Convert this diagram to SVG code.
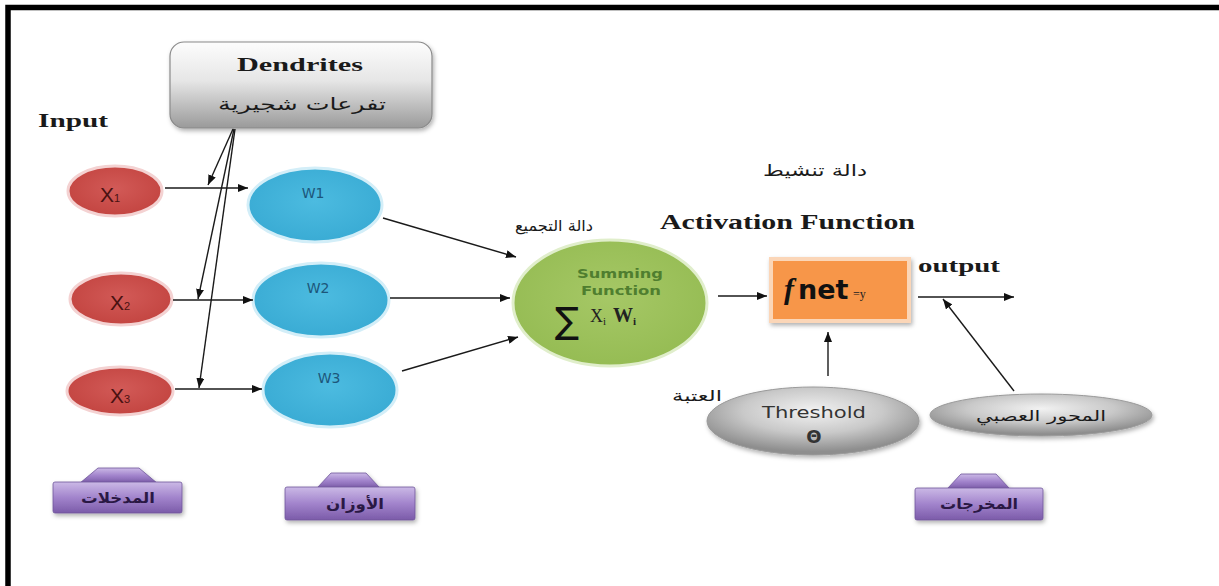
<svg xmlns="http://www.w3.org/2000/svg" width="1219" height="586" viewBox="0 0 1219 586">
<defs>
<linearGradient id="gDend" x1="0" y1="0" x2="0" y2="1"><stop offset="0" stop-color="#fdfdfd"/><stop offset="0.45" stop-color="#e6e6e6"/><stop offset="1" stop-color="#9a9a9a"/></linearGradient>
<radialGradient id="gGray" cx="0.5" cy="0.35" r="0.6"><stop offset="0" stop-color="#f2f2f2"/><stop offset="0.55" stop-color="#c9c9c9"/><stop offset="1" stop-color="#8e8e8e"/></radialGradient>
<linearGradient id="gPurple" x1="0" y1="0" x2="0" y2="1"><stop offset="0" stop-color="#cbb9e6"/><stop offset="0.5" stop-color="#a284cc"/><stop offset="1" stop-color="#7b5ba9"/></linearGradient>
<radialGradient id="gRed" cx="0.5" cy="0.45" r="0.6"><stop offset="0" stop-color="#d25a57"/><stop offset="1" stop-color="#c2433f"/></radialGradient>
<radialGradient id="gBlue" cx="0.5" cy="0.45" r="0.6"><stop offset="0" stop-color="#4cbbe0"/><stop offset="1" stop-color="#38aad3"/></radialGradient>
<radialGradient id="gGreen" cx="0.5" cy="0.45" r="0.6"><stop offset="0" stop-color="#a6c866"/><stop offset="1" stop-color="#94bb52"/></radialGradient>
<filter id="sh" x="-20%" y="-20%" width="140%" height="150%"><feDropShadow dx="1.5" dy="2.5" stdDeviation="2" flood-color="#000" flood-opacity="0.3"/></filter>
<marker id="ah" viewBox="0 0 10 8" refX="10" refY="4" markerWidth="10" markerHeight="8" markerUnits="userSpaceOnUse" orient="auto"><path d="M0,0 L10,4 L0,8 Z" fill="#111"/></marker>
<style>
.en{font-family:"Liberation Serif","Times New Roman",serif;font-weight:bold;fill:#1a1a1a}
.ar{font-family:"DejaVu Sans","Noto Sans",sans-serif;fill:#1a1a1a;text-anchor:middle}
.xn{fill:url(#gRed);stroke:#f4d2d2;stroke-width:3}
.wn{fill:url(#gBlue);stroke:#d3eef8;stroke-width:3}
.xt{font-family:"Liberation Sans",Arial,sans-serif;font-size:21px;fill:#4a1212}
.xs{font-size:11px}
.wt{font-family:"DejaVu Sans",Verdana,sans-serif;font-size:14px;fill:#1d567a;text-anchor:middle}
.gt{font-family:"DejaVu Sans",Verdana,sans-serif;font-size:13px;font-weight:bold;fill:#4f7e2f;text-anchor:middle}
.pb{fill:url(#gPurple);stroke:#6f569a;stroke-width:0.8;filter:url(#sh)}
.pt{font-family:"DejaVu Sans",sans-serif;font-size:15px;font-weight:bold;fill:#2a1844;text-anchor:middle}
.cn{stroke:#1a1a1a;stroke-width:1.4;fill:none;marker-end:url(#ah)}
</style>
</defs>
<rect width="1219" height="586" fill="#ffffff"/>
<path d="M8,586 V7.5 H1219" fill="none" stroke="#000" stroke-width="5.5"/>

<text class="en" x="38" y="127" font-size="19" textLength="70" lengthAdjust="spacingAndGlyphs">Input</text>
<text class="ar" x="554" y="231" font-size="15" textLength="78" lengthAdjust="spacingAndGlyphs">دالة التجميع</text>
<text class="en" x="660" y="229" font-size="20" textLength="255" lengthAdjust="spacingAndGlyphs">Activation Function</text>
<text class="ar" x="815" y="176" font-size="16" textLength="104" lengthAdjust="spacingAndGlyphs">دالة تنشيط</text>
<text class="en" x="918" y="272" font-size="19" textLength="82" lengthAdjust="spacingAndGlyphs">output</text>
<text class="ar" x="697" y="401" font-size="15" textLength="50" lengthAdjust="spacingAndGlyphs">العتبة</text>

<g id="dendrites">
<rect x="170" y="42" width="262" height="86" rx="14" fill="url(#gDend)" stroke="#8a8a8a" stroke-width="1.2" filter="url(#sh)"/>
<text class="en" x="237" y="71" font-size="18" textLength="126" lengthAdjust="spacingAndGlyphs">Dendrites</text>
<text class="ar" x="302" y="110" font-size="17" textLength="168" lengthAdjust="spacingAndGlyphs">تفرعات شجيرية</text>
</g>

<g id="x1"><ellipse class="xn" cx="115" cy="191" rx="47" ry="25"/><text class="xt" x="100" y="202">X<tspan class="xs">1</tspan></text></g>
<g id="x2"><ellipse class="xn" cx="121" cy="299" rx="51" ry="26"/><text class="xt" x="110" y="310">X<tspan class="xs">2</tspan></text></g>
<g id="x3"><ellipse class="xn" cx="120" cy="391" rx="53" ry="24"/><text class="xt" x="110" y="403">X<tspan class="xs">3</tspan></text></g>

<g id="w1"><ellipse class="wn" cx="315" cy="205" rx="67" ry="37"/><text class="wt" x="313" y="198">W1</text></g>
<g id="w2"><ellipse class="wn" cx="321" cy="300" rx="68" ry="37"/><text class="wt" x="318" y="293">W2</text></g>
<g id="w3"><ellipse class="wn" cx="330" cy="390" rx="67" ry="37"/><text class="wt" x="329" y="383">W3</text></g>

<g id="summing">
<ellipse cx="610" cy="303" rx="97" ry="63" fill="url(#gGreen)" stroke="#e0eecb" stroke-width="3"/>
<text class="gt" x="620" y="278" textLength="86" lengthAdjust="spacingAndGlyphs">Summing</text>
<text class="gt" x="621" y="295" textLength="80" lengthAdjust="spacingAndGlyphs">Function</text>
<text x="555" y="333" font-family="DejaVu Sans,sans-serif" font-size="36" fill="#111">∑</text>
<text x="590" y="322" font-family="Liberation Serif,serif" font-size="18" fill="#222">X<tspan font-size="11" dy="3">i</tspan><tspan dy="-3" dx="7" font-weight="bold" font-size="20">W</tspan><tspan font-size="11" font-weight="bold" dy="3">i</tspan></text>
</g>

<g id="activation">
<rect x="771" y="259" width="138" height="62" fill="#f7964a" stroke="#fbd6b8" stroke-width="4" filter="url(#sh)"/>
<text x="784" y="299" font-family="Liberation Serif,serif" font-style="italic" font-weight="bold" font-size="30" fill="#111">f</text>
<text x="798" y="299" font-family="DejaVu Sans,sans-serif" font-weight="bold" font-size="27" fill="#111">net</text>
<text x="853" y="298" font-family="Liberation Serif,serif" font-size="12" fill="#222">=y</text>
</g>

<g id="threshold">
<ellipse cx="813" cy="421" rx="106" ry="34" fill="url(#gGray)" stroke="#9a9a9a" stroke-width="1" filter="url(#sh)"/>
<text x="814" y="418" font-family="DejaVu Sans,sans-serif" font-size="16" fill="#333" text-anchor="middle" textLength="104" lengthAdjust="spacingAndGlyphs">Threshold</text>
<text x="814" y="443" font-family="DejaVu Sans,sans-serif" font-size="18" font-weight="bold" fill="#333" text-anchor="middle">Θ</text>
</g>

<g id="axon">
<ellipse cx="1041" cy="415" rx="111" ry="21" fill="url(#gGray)" stroke="#9a9a9a" stroke-width="1" filter="url(#sh)"/>
<text class="ar" x="1041" y="421" font-size="15" fill="#333" textLength="130" lengthAdjust="spacingAndGlyphs">المحور العصبي</text>
</g>

<g id="inputs-label">
<path class="pb" d="M80,483 L98,468 L139,468 L157,483 Z"/>
<rect class="pb" x="53" y="482" width="129" height="31" rx="2"/>
<text class="pt" x="118" y="503" textLength="74" lengthAdjust="spacingAndGlyphs">المدخلات</text>
</g>
<g id="weights-label">
<path class="pb" d="M317,488 L331,473 L366,473 L380,488 Z"/>
<rect class="pb" x="285" y="487" width="130" height="33" rx="2"/>
<text class="pt" x="355" y="509" textLength="58" lengthAdjust="spacingAndGlyphs">الأوزان</text>
</g>
<g id="outputs-label">
<path class="pb" d="M947,489 L961,474 L996,474 L1010,489 Z"/>
<rect class="pb" x="915" y="488" width="128" height="32" rx="2"/>
<text class="pt" x="979" y="509" textLength="78" lengthAdjust="spacingAndGlyphs">المخرجات</text>
</g>

<g id="connectors">
<line class="cn" x1="165" y1="188" x2="248" y2="188"/>
<line class="cn" x1="173" y1="300" x2="253" y2="300"/>
<line class="cn" x1="175" y1="389" x2="262" y2="389"/>
<line class="cn" x1="233" y1="129" x2="208" y2="185"/>
<line class="cn" x1="234" y1="129" x2="198" y2="299"/>
<line class="cn" x1="235" y1="129" x2="199" y2="388"/>
<line class="cn" x1="383" y1="218" x2="516" y2="257"/>
<line class="cn" x1="390" y1="298" x2="510" y2="298"/>
<line class="cn" x1="402" y1="371" x2="518" y2="337"/>
<line class="cn" x1="718" y1="296" x2="767" y2="296"/>
<line class="cn" x1="918" y1="297" x2="1014" y2="297"/>
<line class="cn" x1="828" y1="376" x2="828" y2="332"/>
<line class="cn" x1="1014" y1="391" x2="943" y2="299"/>
</g>
</svg>
